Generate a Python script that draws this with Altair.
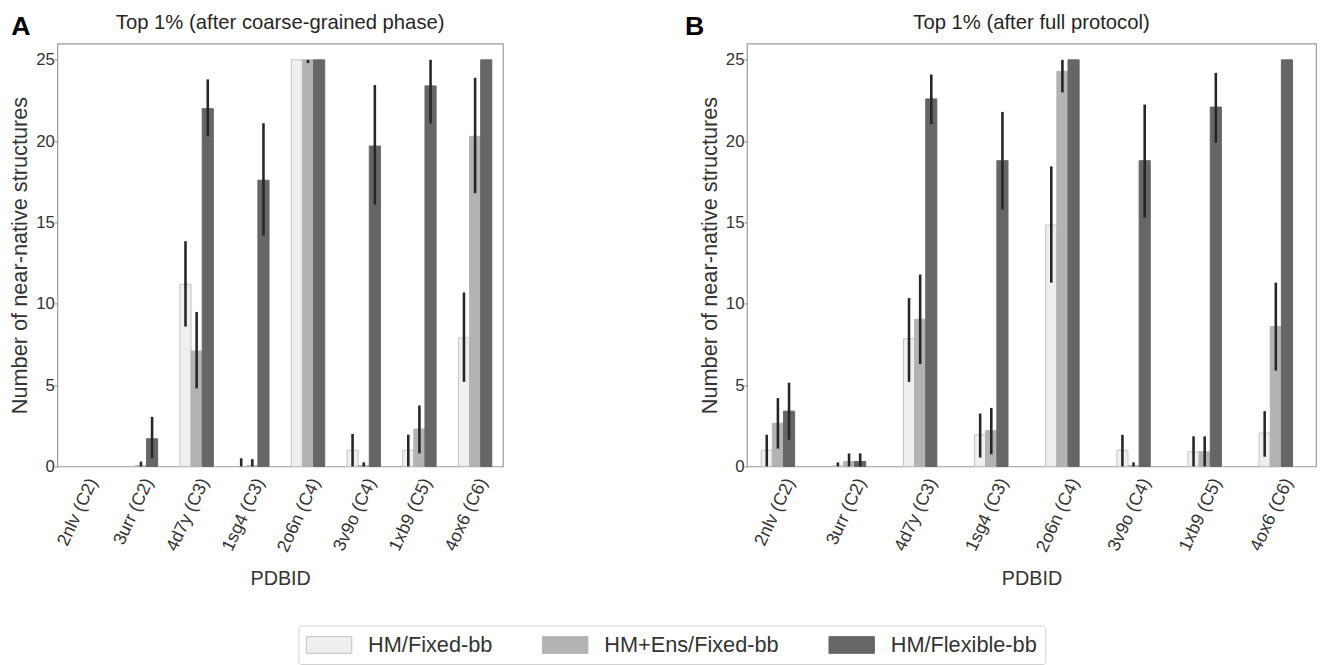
import altair as alt
import pandas as pd

pdb_ids = ["2nlv (C2)", "3urr (C2)", "4d7y (C3)", "1sg4 (C3)",
           "2o6n (C4)", "3v9o (C4)", "1xb9 (C5)", "4ox6 (C6)"]
methods = ["HM/Fixed-bb", "HM+Ens/Fixed-bb", "HM/Flexible-bb"]

# Panel A: top 1% after coarse-grained phase
a_fixed = [0, 0, 11.2, 0, 25, 1.0, 1.0, 7.9]
a_fixed_lo = [0, 0, 8.6, 0, 25, 0, 0, 5.2]
a_fixed_hi = [0, 0, 13.85, 0.5, 25, 2.0, 1.95, 10.7]
a_ens = [0, 0.05, 7.1, 0.05, 25, 0.05, 2.3, 20.3]
a_ens_lo = [0, 0, 4.8, 0, 24.8, 0, 0.8, 16.8]
a_ens_hi = [0, 0.3, 9.5, 0.45, 25, 0.25, 3.75, 23.9]
a_flex = [0, 1.7, 22.0, 17.6, 25, 19.7, 23.4, 25]
a_flex_lo = [0, 0.5, 20.3, 14.2, 25, 16.1, 21.1, 25]
a_flex_hi = [0, 3.05, 23.8, 21.1, 25, 23.45, 25, 25]

# Panel B: top 1% after full protocol
b_fixed = [1.0, 0.05, 7.85, 1.95, 14.85, 1.0, 0.9, 2.05]
b_fixed_lo = [0, 0, 5.2, 0.55, 11.3, 0, 0, 0.6]
b_fixed_hi = [1.95, 0.25, 10.35, 3.25, 18.45, 1.95, 1.85, 3.4]
b_ens = [2.65, 0.3, 9.05, 2.2, 24.3, 0.05, 0.9, 8.6]
b_ens_lo = [1.1, 0, 6.3, 0.75, 23.0, 0, 0, 5.9]
b_ens_hi = [4.2, 0.8, 11.8, 3.6, 25, 0.25, 1.85, 11.3]
b_flex = [3.4, 0.3, 22.6, 18.8, 25, 18.8, 22.1, 25]
b_flex_lo = [1.65, 0, 21.05, 15.8, 25, 15.3, 19.9, 25]
b_flex_hi = [5.15, 0.8, 24.1, 21.8, 25, 22.25, 24.2, 25]

y_ticks = [0, 5, 10, 15, 20, 25]
fill_colors = ["#efefef", "#b3b3b3", "#666666"]
stroke_colors = ["#c2c2c2", "#b3b3b3", "#666666"]
FONT = "Liberation Sans"


def make_df(vals, los, his):
    rows = []
    for m, v, l, h in zip(methods, vals, los, his):
        for p, vi, li, hi in zip(pdb_ids, v, l, h):
            rows.append({"pdb": p, "method": m, "value": vi, "lo": li, "hi": hi})
    return pd.DataFrame(rows)


df_a = make_df([a_fixed, a_ens, a_flex], [a_fixed_lo, a_ens_lo, a_flex_lo],
               [a_fixed_hi, a_ens_hi, a_flex_hi])
df_b = make_df([b_fixed, b_ens, b_flex], [b_fixed_lo, b_ens_lo, b_flex_lo],
               [b_fixed_hi, b_ens_hi, b_flex_hi])

legend = alt.Legend(
    title=None, orient="none", legendX=244, legendY=589, direction="horizontal",
    columns=3, symbolType="M-2.09,-0.77H2.09V0.77H-2.09Z", symbolSize=484,
    symbolOffset=11.5, symbolStrokeWidth=1, labelFontSize=22, labelFont=FONT,
    labelColor="#333333", labelLimit=400, columnPadding=48, labelOffset=28,
    padding=8, strokeColor="#cfcfcf", fillColor="white", cornerRadius=3,
)


def panel(df, title, letter, width, letter_dx):
    x = alt.X("pdb:N", sort=pdb_ids,
              scale=alt.Scale(paddingInner=0.4, paddingOuter=0.2),
              axis=alt.Axis(title="PDBID", labelAngle=-65, labelFontSize=18,
                            labelAlign="right", labelBaseline="top",
                            ticks=False, labelPadding=9, titleFontSize=20,
                            titlePadding=14, domain=False))
    xo = alt.XOffset("method:N", sort=methods,
                     scale=alt.Scale(domain=methods, paddingInner=0, paddingOuter=0))
    y = alt.Y("value:Q", scale=alt.Scale(domain=[0, 26], nice=False),
              axis=alt.Axis(values=y_ticks, title="Number of near-native structures",
                            labelFontSize=17, titleFontSize=22, tickSize=3,
                            tickColor="#888888", domain=False, titlePadding=4,
                            labelPadding=0))
    bars = alt.Chart(df).mark_bar(strokeWidth=1).encode(
        x=x, xOffset=xo, y=y,
        color=alt.Color("method:N", scale=alt.Scale(domain=methods, range=fill_colors),
                        legend=legend),
        stroke=alt.Stroke("method:N", scale=alt.Scale(domain=methods, range=stroke_colors),
                          legend=legend),
        strokeOpacity=alt.condition("datum.value > 0", alt.value(1), alt.value(0)),
    )
    err = alt.Chart(df).mark_rule(color="#262626", strokeWidth=2.6).encode(
        x=alt.X("pdb:N", sort=pdb_ids), xOffset=xo, y="lo:Q", y2="hi:Q"
    )
    lab = alt.Chart(pd.DataFrame({"t": [letter]})).mark_text(
        fontSize=27, fontWeight="bold", font=FONT, color="black",
        align="center", baseline="middle"
    ).encode(text="t:N", x=alt.value(letter_dx), y=alt.value(-17))
    return alt.layer(bars, err, lab).properties(
        width=width, height=428,
        title=alt.TitleParams(title, fontSize=20.5, fontWeight="normal", font=FONT,
                              color="#262626", offset=-21, anchor="middle"),
    )


pa = panel(df_a, "Top 1% (after coarse-grained phase)", "A", 451, -37)
pb = panel(df_b, "Top 1% (after full protocol)", "B", 576, -53)

chart = alt.hconcat(pa, pb, spacing=182).properties(
    padding={"left": 0, "top": 0, "right": 0, "bottom": 0}
).configure_view(stroke="#9a9a9a", strokeWidth=1.2).configure_axis(
    labelFont=FONT, titleFont=FONT, labelColor="#333333", titleColor="#333333",
    grid=False, titleFontWeight="normal"
)

chart.save("out.html", embed_options={"renderer": "svg", "actions": False})
